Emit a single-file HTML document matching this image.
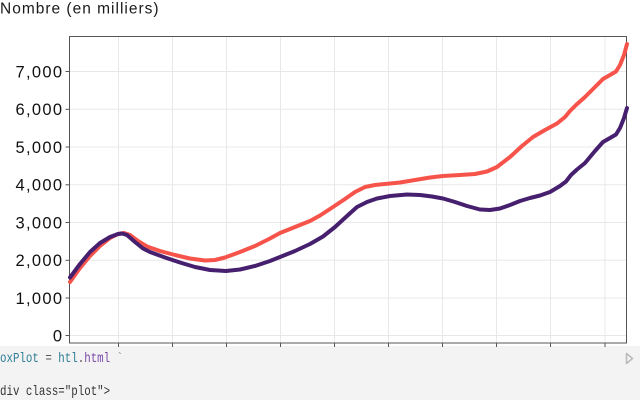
<!DOCTYPE html>
<html><head><meta charset="utf-8"><style>
html,body{margin:0;padding:0;background:#fff;}
body{width:640px;height:400px;overflow:hidden;position:relative;}
svg{position:absolute;left:0;top:0;}
</style></head><body>
<svg width="640" height="400" viewBox="0 0 640 400" xmlns="http://www.w3.org/2000/svg">
<rect x="0" y="346" width="640" height="54" fill="#f3f3f3"/>
<text x="0" y="13.5" font-family="Liberation Sans, sans-serif" font-size="15.5" letter-spacing="1" fill="#1a1a1a">Nombre (en milliers)</text>
<g stroke="#e8e8e8" stroke-width="1">
<line x1="70" x2="626" y1="71.5" y2="71.5"/>
<line x1="70" x2="626" y1="109.3" y2="109.3"/>
<line x1="70" x2="626" y1="147" y2="147"/>
<line x1="70" x2="626" y1="184.8" y2="184.8"/>
<line x1="70" x2="626" y1="222.5" y2="222.5"/>
<line x1="70" x2="626" y1="260.3" y2="260.3"/>
<line x1="70" x2="626" y1="298" y2="298"/>
<line x1="70" x2="626" y1="335.5" y2="335.5"/>
<line x1="118.5" x2="118.5" y1="36" y2="343"/>
<line x1="172.5" x2="172.5" y1="36" y2="343"/>
<line x1="226.5" x2="226.5" y1="36" y2="343"/>
<line x1="280.5" x2="280.5" y1="36" y2="343"/>
<line x1="334.5" x2="334.5" y1="36" y2="343"/>
<line x1="388.5" x2="388.5" y1="36" y2="343"/>
<line x1="442.5" x2="442.5" y1="36" y2="343"/>
<line x1="496.5" x2="496.5" y1="36" y2="343"/>
<line x1="550.5" x2="550.5" y1="36" y2="343"/>
<line x1="605" x2="605" y1="36" y2="343"/>
</g>
<g stroke="#555" stroke-width="1">
<line x1="65.5" x2="69.5" y1="71.5" y2="71.5"/>
<line x1="65.5" x2="69.5" y1="109.3" y2="109.3"/>
<line x1="65.5" x2="69.5" y1="147" y2="147"/>
<line x1="65.5" x2="69.5" y1="184.8" y2="184.8"/>
<line x1="65.5" x2="69.5" y1="222.5" y2="222.5"/>
<line x1="65.5" x2="69.5" y1="260.3" y2="260.3"/>
<line x1="65.5" x2="69.5" y1="298" y2="298"/>
<line x1="65.5" x2="69.5" y1="335.5" y2="335.5"/>
<line x1="118.5" x2="118.5" y1="343" y2="347"/>
<line x1="172.5" x2="172.5" y1="343" y2="347"/>
<line x1="226.5" x2="226.5" y1="343" y2="347"/>
<line x1="280.5" x2="280.5" y1="343" y2="347"/>
<line x1="334.5" x2="334.5" y1="343" y2="347"/>
<line x1="388.5" x2="388.5" y1="343" y2="347"/>
<line x1="442.5" x2="442.5" y1="343" y2="347"/>
<line x1="496.5" x2="496.5" y1="343" y2="347"/>
<line x1="550.5" x2="550.5" y1="343" y2="347"/>
<line x1="605" x2="605" y1="343" y2="347"/>
</g>
<rect x="69.5" y="36.5" width="557" height="306.5" fill="none" stroke="#555" stroke-width="1"/>
<g font-family="Liberation Sans, sans-serif" font-size="16.5" letter-spacing="1.3" fill="#111" text-anchor="end">
<text x="63.3" y="77.3">7,000</text>
<text x="63.3" y="115.1">6,000</text>
<text x="63.3" y="152.8">5,000</text>
<text x="63.3" y="190.6">4,000</text>
<text x="63.3" y="228.3">3,000</text>
<text x="63.3" y="266.1">2,000</text>
<text x="63.3" y="303.8">1,000</text>
<text x="63.3" y="341.3">0</text>
</g>
<polyline fill="none" stroke="#f6544b" stroke-width="4" stroke-linejoin="round" stroke-linecap="round" points="70,282 80,268 90,256 100,246 110,238 118,234 124,233 130,235 138,241 147,246.5 160,251 175,255 190,258.5 205,260.5 215,260 225,257.5 240,252 255,246 270,238.5 280,233 295,227 310,221 320,215.5 330,209 345,199 355,192 365,187 375,185 390,183.5 400,182.5 415,180 430,177.5 443,176 460,175 475,174 487,171.5 497,167 510,157 522,146 533,137 545,130 557,123.5 565,117 570,111 576,105 585,97 595,87 603,79 610,75 616,71.5 620,65 624,55 627,44"/>
<polyline fill="none" stroke="#46206f" stroke-width="4" stroke-linejoin="round" stroke-linecap="round" points="70,277.5 80,264 90,252 100,243 110,237 118,234 122,233.5 127,235 135,242 143,248.5 150,252 165,257.5 180,262.5 195,267 210,270 226,271 240,269.5 255,266 270,261 280,257 295,251 310,244 323,236.5 335,227 347,216 357,207 367,202 377,198.5 390,196 407,194.5 420,195 432,196.5 443,198.5 455,202 467,206 480,209.5 490,210 500,208.5 510,205 520,201 530,198 540,195.5 550,192 560,186 566,181.5 571,175 577,169.5 585,163 595,151 603,142 610,138 616,134.5 620,128 624,118 627,108"/>
<g font-family="Liberation Mono, monospace" font-size="13.5" transform="scale(0.8,1)">
<text x="0" y="362"><tspan fill="#2d7d95">oxPlot</tspan><tspan fill="#555"> = </tspan><tspan fill="#2d7d95">htl</tspan><tspan fill="#555">.</tspan><tspan fill="#7b4aa8">html</tspan><tspan fill="#888"> `</tspan></text>
<text x="0" y="395" fill="#333">div class="plot"&gt;</text>
</g>
<path d="M626.5 353.5 L632.5 358.5 L626.5 363.5 Z" fill="none" stroke="#bbb" stroke-width="1.6" stroke-linejoin="round"/>
</svg>
</body></html>
